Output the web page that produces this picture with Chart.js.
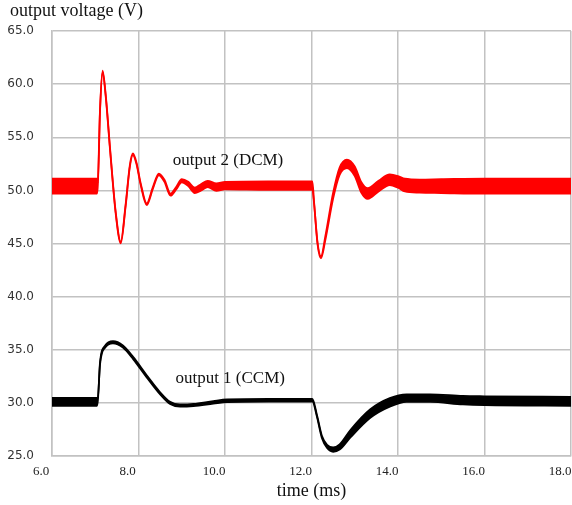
<!DOCTYPE html>
<html>
<head>
<meta charset="utf-8">
<script src="https://cdn.jsdelivr.net/npm/chart.js@4/dist/chart.umd.min.js"></script>
<style>
    html, body { margin: 0; padding: 0; background: #fff; }
    #wrap { width: 572px; height: 505px; }
</style>
</head>
<body>
<div id="wrap"><canvas id="chart" width="572" height="505"></canvas></div>
<script>
// tick labels
const xTicks = [6, 8, 10, 12, 14, 16, 18];
const yTicks = [25, 30, 35, 40, 45, 50, 55, 60, 65];

// output 2 (DCM) - centre of the trace and half width of the ripple band (V)
const dcmTime = [6.0, 7.04, 7.06, 7.11, 7.17, 7.24, 7.35, 7.47, 7.59, 7.70, 7.80, 7.87, 7.95, 8.05,
    8.19, 8.33, 8.47, 8.60, 8.74, 8.87, 9.00, 9.15, 9.30, 9.45, 9.60, 9.80, 10.0, 11.0, 12.02,
    12.06, 12.14, 12.22, 12.32, 12.50, 12.65, 12.82, 13.0, 13.15, 13.30, 13.55, 13.81, 14.0,
    14.16, 14.5, 15.0, 16.0, 18.0];
const dcmVolt = [50.4, 50.4, 50.6, 57.5, 61.2, 59.0, 53.5, 48.0, 45.1, 48.5, 52.3, 53.4, 52.6, 50.6,
    48.7, 50.2, 51.5, 50.9, 49.6, 50.2, 50.9, 50.6, 50.0, 50.3, 50.6, 50.3, 50.45, 50.45, 50.45,
    48.8, 45.0, 43.7, 45.5, 49.5, 51.8, 52.5, 51.8, 50.3, 49.7, 50.4, 51.0, 50.8,
    50.5, 50.4, 50.4, 50.4, 50.4];
const dcmRipple = [0.7, 0.7, 0.08, 0.08, 0.08, 0.08, 0.08, 0.08, 0.08, 0.08, 0.08, 0.08, 0.08, 0.08,
    0.08, 0.08, 0.08, 0.1, 0.1, 0.12, 0.15, 0.2, 0.25, 0.3, 0.3, 0.35, 0.35, 0.4, 0.4,
    0.08, 0.08, 0.1, 0.18, 0.28, 0.35, 0.4, 0.45, 0.5, 0.5, 0.5, 0.5, 0.55,
    0.6, 0.62, 0.65, 0.7, 0.7];

// output 1 (CCM)
const ccmTime = [6.0, 7.04, 7.06, 7.11, 7.23, 7.41, 7.64, 7.88, 8.19, 8.50, 8.73, 8.96, 9.27, 9.73,
    10.05, 11.0, 12.02, 12.13, 12.24, 12.36, 12.50, 12.65, 12.90, 13.36, 13.81, 14.2, 14.74, 15.5,
    16.0, 18.0];
const ccmVolt = [30.1, 30.1, 30.3, 33.7, 35.3, 35.7, 35.3, 34.2, 32.5, 30.9, 30.0, 29.75, 29.8, 30.05,
    30.2, 30.25, 30.25, 28.7, 26.8, 25.9, 25.6, 25.85, 27.1, 29.0, 30.05, 30.45, 30.45, 30.25,
    30.2, 30.15];
const ccmRipple = [0.37, 0.37, 0.1, 0.1, 0.1, 0.1, 0.1, 0.1, 0.1, 0.1, 0.1, 0.1, 0.1, 0.12,
    0.12, 0.12, 0.12, 0.08, 0.1, 0.15, 0.2, 0.25, 0.35, 0.4, 0.4, 0.35, 0.35, 0.4,
    0.42, 0.42];

const serif = '"Liberation Serif", "Times New Roman", serif';

function band(time, volt, ripple, sign) {
    return time.map((t, i) => ({ x: t, y: volt[i] + sign * ripple[i] }));
}

function trace(time, volt, ripple, color) {
    const common = {
        borderColor: color,
        backgroundColor: color,
        borderWidth: 1.8,
        pointRadius: 0,
        cubicInterpolationMode: "monotone",
    };
    return [
        { ...common, data: band(time, volt, ripple, 1), fill: false },
        { ...common, data: band(time, volt, ripple, -1), fill: "-1" },
    ];
}

// 標題和曲線說明
const textPlugin = {
    id: "texts",
    afterDraw(chart) {
        const { ctx, scales } = chart;
        ctx.save();
        ctx.fillStyle = "#111";
        ctx.textBaseline = "middle";
        ctx.textAlign = "left";
        ctx.font = "18px " + serif;
        ctx.fillText("output voltage (V)", 10, 11);

        ctx.textAlign = "center";
        ctx.font = "17px " + serif;
        ctx.fillText("output 2 (DCM)", scales.x.getPixelForValue(10.07), scales.y.getPixelForValue(52.85));
        ctx.fillText("output 1 (CCM)", scales.x.getPixelForValue(10.12), scales.y.getPixelForValue(32.3));
        ctx.restore();
    },
};

const gridColor = "#c2c2c2";

const config = {
    type: "line",
    data: {
        datasets: [
            ...trace(dcmTime, dcmVolt, dcmRipple, "#ff0000"),
            ...trace(ccmTime, ccmVolt, ccmRipple, "#000000"),
        ],
    },
    options: {
        responsive: false,
        animation: false,
        layout: {
            padding: { top: 31, right: 1, left: 0, bottom: 0 },
        },
        scales: {
            x: {
                type: "linear",
                min: 6,
                max: 18,
                afterBuildTicks: (s) => { s.ticks = xTicks.map((v) => ({ value: v })); },
                afterFit: (s) => {
                    s.height = 49;
                    s.paddingLeft = 0;
                    s.paddingRight = 0;
                },
                grid: { color: gridColor, lineWidth: 1.5, drawTicks: false },
                border: { color: gridColor, width: 1.5 },
                ticks: {
                    padding: 8,
                    labelOffset: -11,
                    maxRotation: 0,
                    color: "#222",
                    font: { family: serif, size: 13 },
                    callback: (v) => Number(v).toFixed(1),
                },
                title: {
                    display: true,
                    text: "time (ms)",
                    color: "#111",
                    font: { family: serif, size: 18 },
                    padding: { top: 3, bottom: 3 },
                },
            },
            y: {
                min: 25,
                max: 65,
                afterBuildTicks: (s) => { s.ticks = yTicks.map((v) => ({ value: v })); },
                afterFit: (s) => {
                    s.width = 52;
                    s.paddingTop = 0;
                    s.paddingBottom = 0;
                },
                grid: { color: gridColor, lineWidth: 1.5, drawTicks: false },
                border: { color: gridColor, width: 1.5 },
                ticks: {
                    padding: 18,
                    color: "#333",
                    font: { family: '"DejaVu Sans", sans-serif', size: 12 },
                    callback: (v) => Number(v).toFixed(1),
                },
            },
        },
        plugins: {
            legend: { display: false },
            tooltip: { enabled: false },
        },
    },
    plugins: [textPlugin],
};

const chart = new Chart(document.getElementById("chart"), config);
</script>
</body>
</html>
